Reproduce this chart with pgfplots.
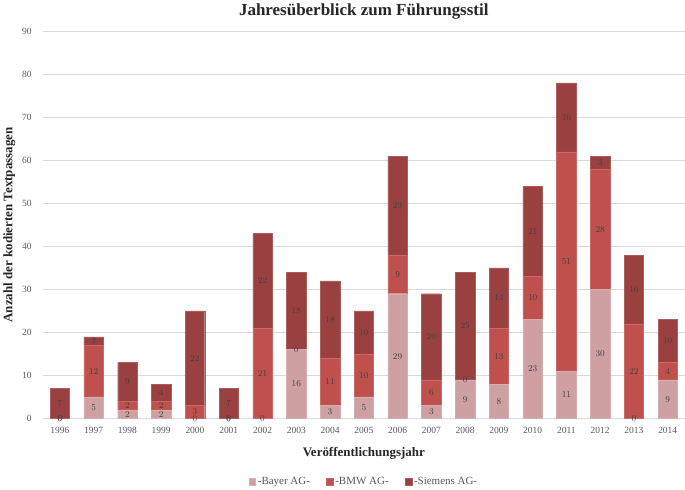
\documentclass[border=0pt]{standalone}
\usepackage{fontspec}
\setmainfont{Liberation Serif}
\usepackage{pgfplots}
\usepackage{pgfplotstable}
\pgfplotsset{compat=1.18}
\definecolor{cB}{HTML}{CFA0A2}
\definecolor{cM}{HTML}{C0504D}
\definecolor{cS}{HTML}{9A4040}
\definecolor{gridc}{HTML}{D9D9D9}
\definecolor{labc}{HTML}{404040}
\definecolor{tickc}{HTML}{595959}
\pgfplotstableread{
x b m s
0 0 0 7
1 5 12 2
2 2 2 9
3 2 2 4
4 0 3 22
5 0 0 7
6 0 21 22
7 16 0 18
8 3 11 18
9 5 10 10
10 29 9 23
11 3 6 20
12 9 0 25
13 8 13 14
14 23 10 21
15 11 51 16
16 30 28 3
17 0 22 16
18 9 4 10
}\data
\pgfplotsset{common/.style={scale only axis, width=643pt, height=388pt,
  xmin=-0.5, xmax=18.5, ymin=0, ymax=90}}
\begin{document}
\begin{tikzpicture}
\begin{axis}[
  common,
  ybar stacked, bar width=19.5pt,
  ytick={0,10,...,90},
  xtick={0,...,18},
  xticklabels={1996,1997,1998,1999,2000,2001,2002,2003,2004,2005,2006,2007,2008,2009,2010,2011,2012,2013,2014},
  ymajorgrids, grid style={gridc, line width=0.8pt},
  axis x line*=bottom, axis y line*=left,
  x axis line style={gridc, line width=0.8pt},
  y axis line style={draw=none},
  major tick length=0pt,
  tick label style={font=\fontsize{9.5}{11}\selectfont, text=tickc},
  yticklabel style={xshift=-8pt},
  xticklabel style={yshift=-5pt},
  /pgf/number format/assume math mode=true,
  title={Jahresüberblick zum Führungsstil},
  title style={font=\bfseries\fontsize{17}{19}\selectfont, text=black!85, yshift=3pt},
  xlabel={Veröffentlichungsjahr},
  xlabel style={font=\bfseries\fontsize{13}{15}\selectfont, text=black!85, yshift=-7pt},
  ylabel={Anzahl der kodierten Textpassagen},
  ylabel style={font=\bfseries\fontsize{13}{15}\selectfont, text=black!85},
  legend style={at={(0.5,-0.14)}, anchor=north, draw=none, legend columns=-1,
    font=\fontsize{11}{13}\selectfont, text=tickc,
    /tikz/every even column/.append style={column sep=14pt}},
  legend image code/.code={\fill[#1] (0pt,-3.5pt) rectangle (7pt,3.5pt);},
]
\addplot[fill=cB, draw=cB!85!white] table[x=x, y=b]{\data};
\addplot[fill=cM, draw=cM!85!white] table[x=x, y=m]{\data};
\addplot[fill=cS, draw=cS!85!white] table[x=x, y=s]{\data};
\legend{-Bayer AG-, -BMW AG-, -Siemens AG-}
\end{axis}
\begin{axis}[
  common, hide axis, clip=false,
  point meta=explicit,
  nodes near coords,
  every node near coord/.append style={font=\fontsize{9}{10}\selectfont, text=labc, anchor=center, inner sep=0pt},
]
\addplot[draw=none, mark=none] table[x=x, y expr=\thisrow{b}/2, meta=b]{\data};
\addplot[draw=none, mark=none] table[x=x, y expr=\thisrow{b}+\thisrow{m}/2, meta=m]{\data};
\addplot[draw=none, mark=none] table[x=x, y expr=\thisrow{b}+\thisrow{m}+\thisrow{s}/2, meta=s]{\data};
\end{axis}
\end{tikzpicture}
\end{document}
